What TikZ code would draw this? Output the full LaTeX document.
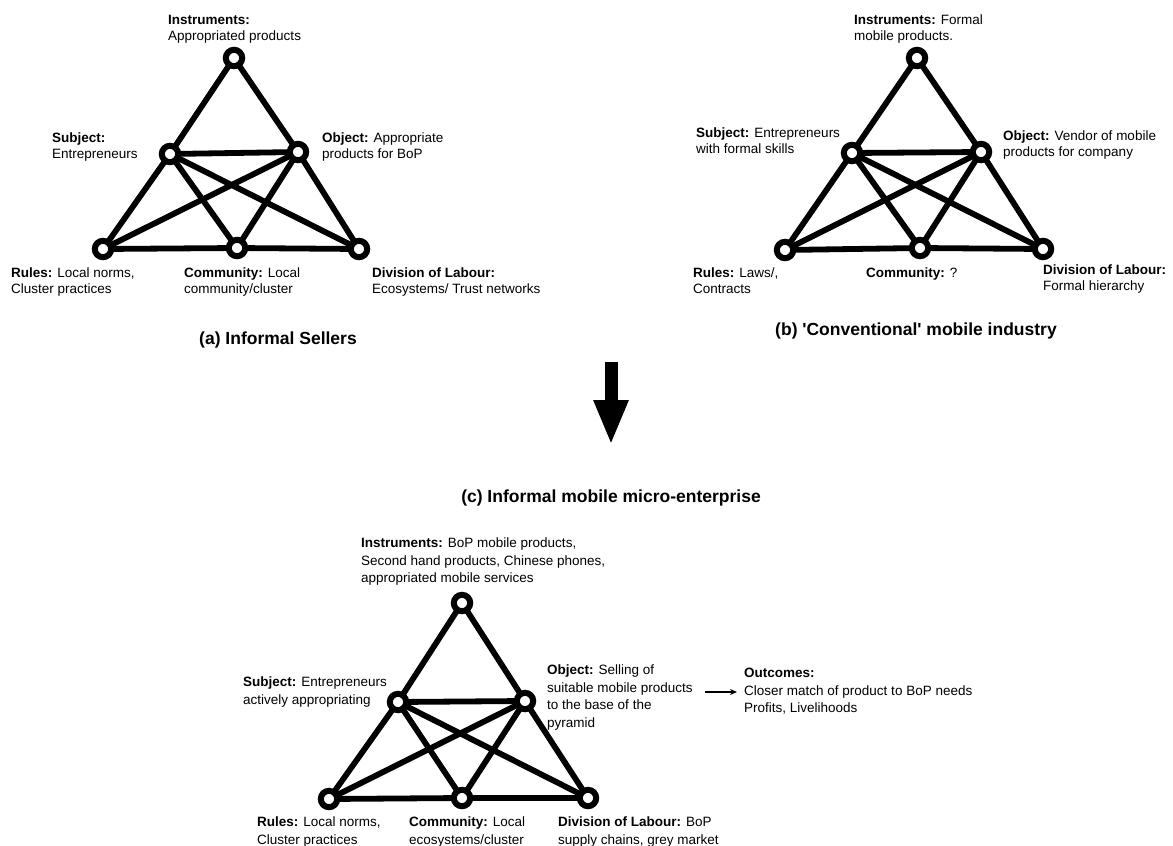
\documentclass[tikz,border=0pt]{standalone}
\usepackage{fontspec}
\setmainfont{Liberation Sans}[Ligatures=TeXOff]
\usetikzlibrary{arrows.meta,backgrounds}
\begin{document}
\begin{tikzpicture}[x=1pt,y=-1pt,
  vtx/.style={circle,draw,line width=6pt,fill=white,minimum size=16.4pt,inner sep=0pt},
  edge/.style={line width=5.8pt},
  lbl/.style={anchor=north west,inner sep=0pt,align=left,font=\fontsize{13.5}{16}\selectfont},
  lblc/.style={anchor=north west,inner sep=0pt,align=left,font=\fontsize{13.5}{17.5}\selectfont},
  captxt/.style={inner sep=0pt,font=\bfseries\fontsize{17.5}{20}\selectfont}]
\useasboundingbox (0,0) rectangle (1173,846);

% ---------- (a) ----------
\node[vtx] (aI) at (234,58) {};
\node[vtx] (aS) at (170,154) {};
\node[vtx] (aO) at (298,152) {};
\node[vtx] (aR) at (103,249) {};
\node[vtx] (aC) at (237,248) {};
\node[vtx] (aD) at (359,249) {};
\node[lbl] (aIt) at (168,15) {\textbf{Instruments:}\\Appropriated products};
\node[lbl] (aSt) at (52,133) {\textbf{Subject:}\\Entrepreneurs};
\node[lbl] (aOt) at (322,133) {\textbf{Object:} Appropriate\\products for BoP};
\node[lbl] (aRt) at (11,268) {\textbf{Rules:} Local norms,\\Cluster practices};
\node[lbl] (aCt) at (184,268) {\textbf{Community:} Local\\community/cluster};
\node[lbl] (aDt) at (372,268) {\textbf{Division of Labour:}\\Ecosystems/ Trust networks};
\node[captxt] (acap) at (278,340) {(a) Informal Sellers};

% ---------- (b) ----------
\node[vtx] (bI) at (917,58) {};
\node[vtx] (bS) at (852,153) {};
\node[vtx] (bO) at (981,152) {};
\node[vtx] (bR) at (785,250) {};
\node[vtx] (bC) at (920,248) {};
\node[vtx] (bD) at (1043,249) {};
\node[lbl] (bIt) at (854,15) {\textbf{Instruments:} Formal\\mobile products.};
\node[lbl] (bSt) at (696,128) {\textbf{Subject:} Entrepreneurs\\with formal skills};
\node[lbl] (bOt) at (1003,131) {\textbf{Object:} Vendor of mobile\\products for company};
\node[lbl] (bRt) at (693,268) {\textbf{Rules:} Laws/,\\Contracts};
\node[lbl] (bCt) at (866,268) {\textbf{Community:} ?};
\node[lbl] (bDt) at (1043,265) {\textbf{Division of Labour:}\\Formal hierarchy};
\node[captxt] (bcap) at (916,331) {(b) 'Conventional' mobile industry};

% ---------- big arrow ----------
\coordinate (bigtop) at (611,362);
\coordinate (bigtip) at (611,445);
\draw[line width=13pt,-{Triangle[width=32pt,length=45pt]}] (bigtop) -- (bigtip);

% ---------- (c) ----------
\node[captxt] (ccap) at (611,498) {(c) Informal mobile micro-enterprise};
\node[vtx] (cI) at (462,603) {};
\node[vtx] (cS) at (398,702) {};
\node[vtx] (cO) at (525,701) {};
\node[vtx] (cR) at (329,799) {};
\node[vtx] (cC) at (462,798) {};
\node[vtx] (cD) at (588,798) {};
\node[lblc] (cIt) at (361,538) {\textbf{Instruments:} BoP mobile products,\\Second hand products, Chinese phones,\\appropriated mobile services};
\node[lblc] (cSt) at (243,677) {\textbf{Subject:} Entrepreneurs\\actively appropriating};
\node[lblc] (cOt) at (547,665) {\textbf{Object:} Selling of\\suitable mobile products\\to the base of the\\pyramid};
\node[lblc] (cRt) at (257,817) {\textbf{Rules:} Local norms,\\Cluster practices};
\node[lblc] (cCt) at (409,817) {\textbf{Community:} Local\\ecosystems/cluster};
\node[lblc] (cDt) at (558,817) {\textbf{Division of Labour:} BoP\\supply chains, grey market};
\node[lblc] (outc) at (744,668) {\textbf{Outcomes:}\\Closer match of product to BoP needs\\Profits, Livelihoods};
\coordinate (outstart) at (705,692);
\draw[line width=1.6pt,-{Stealth[length=7pt,width=6pt]}] (outstart) -- ([xshift=-7pt]outc.west |- outstart);

% ---------- edges ----------
\begin{scope}[on background layer]
\foreach \t in {a,b,c}{
  \foreach \u/\v in {I/S,I/O,S/R,O/D,R/C,C/D,S/O,S/C,S/D,O/R,O/C}{
    \draw[edge] (\t\u.center) -- (\t\v.center);
  }
}
\end{scope}
\end{tikzpicture}
\end{document}
